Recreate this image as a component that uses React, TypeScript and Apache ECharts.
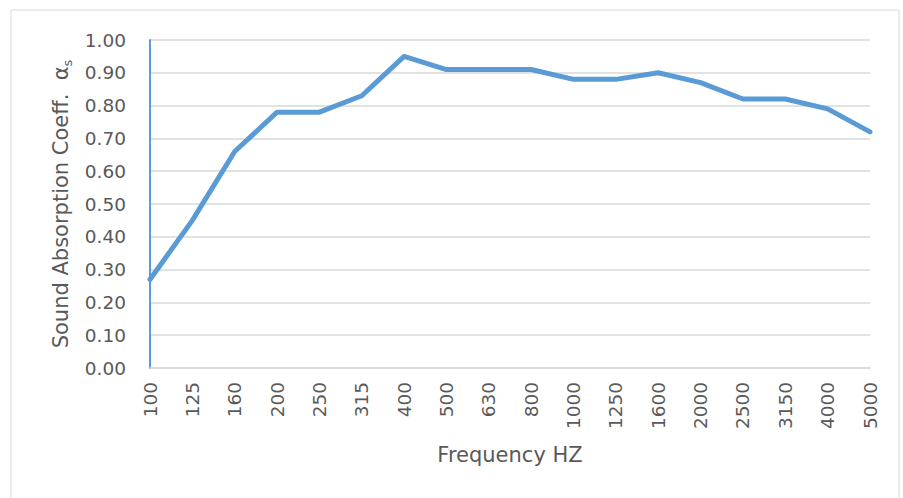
import React, { useEffect, useRef } from "react";
import * as echarts from "echarts";

const frequencies = ["100", "125", "160", "200", "250", "315", "400", "500", "630", "800", "1000", "1250", "1600", "2000", "2500", "3150", "4000", "5000"];
const absorption = [0.27, 0.45, 0.66, 0.78, 0.78, 0.83, 0.95, 0.91, 0.91, 0.91, 0.88, 0.88, 0.90, 0.87, 0.82, 0.82, 0.79, 0.72];

const FONT = "'DejaVu Sans', sans-serif";
const TEXT = "#595959";

export default function App() {
  const ref = useRef<HTMLDivElement>(null);
  useEffect(() => {
    if (!ref.current) return;
    const chart = echarts.init(ref.current, undefined, { renderer: "svg" });
    chart.setOption({
      animation: false,
      backgroundColor: "#ffffff",
      graphic: [
        {
          type: "rect",
          shape: { x: 11, y: 10, width: 888, height: 495 },
          style: { fill: "none", stroke: "#d9d9d9", lineWidth: 1 },
          silent: true,
        },
      ],
      grid: { left: 150, right: 33, top: 40, bottom: 130 },
      xAxis: {
        type: "category",
        data: frequencies,
        boundaryGap: false,
        axisLine: { lineStyle: { color: "#d9d9d9", width: 1.5 } },
        axisTick: { show: false },
        axisLabel: { rotate: 90, color: TEXT, fontSize: 18.5, fontFamily: FONT, margin: 14 },
        name: "Frequency HZ",
        nameLocation: "middle",
        nameGap: 76,
        nameTextStyle: { color: TEXT, fontSize: 21, fontFamily: FONT },
        splitLine: { show: false },
      },
      yAxis: {
        type: "value",
        min: 0,
        max: 1,
        interval: 0.1,
        axisLine: { show: true, lineStyle: { color: "#5b9bd5", width: 2 } },
        axisTick: { show: false },
        axisLabel: {
          color: TEXT,
          fontSize: 18.5,
          fontFamily: FONT,
          margin: 24,
          formatter: (v: number) => v.toFixed(2),
        },
        splitLine: { lineStyle: { color: "#d9d9d9", width: 1.5 } },
        name: "{a|Sound Absorption Coeff.  α}{s|s}",
        nameLocation: "middle",
        nameGap: 76,
        nameRotate: 90,
        nameTextStyle: {
          color: TEXT,
          fontSize: 21,
          fontFamily: FONT,
          rich: {
            a: { color: TEXT, fontSize: 21, fontFamily: FONT },
            s: { color: TEXT, fontSize: 13, fontFamily: FONT, padding: [12, 0, 0, 0] },
          },
        },
      },
      series: [
        {
          type: "line",
          data: absorption,
          showSymbol: false,
          symbol: "none",
          lineStyle: { color: "#5b9bd5", width: 5, cap: "round", join: "round" },
        },
      ],
    });
    return () => chart.dispose();
  }, []);
  return (
    <div
      ref={ref}
      style={{ position: "absolute", left: 0, top: 0, width: 903, height: 498 }}
    />
  );
}
